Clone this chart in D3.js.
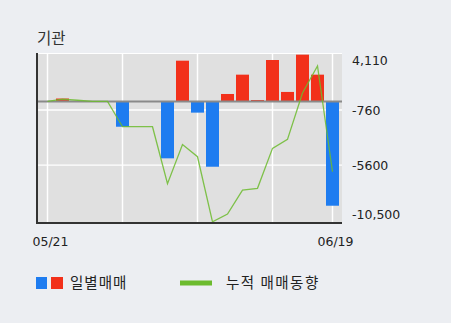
<!DOCTYPE html>
<html><head><meta charset="utf-8">
<script src="https://cdn.jsdelivr.net/npm/d3@7/dist/d3.min.js"></script>
<style>
html,body{margin:0;padding:0;background:#eceef2;}
svg{display:block;font-family:"Noto Sans CJK KR","Noto Sans",sans-serif;}
.num{font-family:"DejaVu Sans",sans-serif;}
</style></head>
<body><svg id="chart" width="451" height="323"></svg>
<script>
const title = "기관";
const dates = ["05/21","05/23","05/24","05/25","05/28","05/29","05/30","05/31","06/01","06/04",
               "06/05","06/07","06/08","06/11","06/12","06/13","06/14","06/15","06/18","06/19"];
const daily = [0, 250, 0, 0, 0, -2230, 0, 0, -5010, 3580,
               -990, -5750, 650, 2350, 120, 3640, 830, 4110, 2350, -9180];
const cumulative = [0, 200, 100, 0, 0, -2230, -2230, -2230, -7240, -3800,
                    -4870, -10600, -9910, -7800, -7650, -4130, -3340, 740, 3110, -6190];
const yTicks = [4110, -760, -5600, -10500];
const xLabels = ["05/21", "06/19"];
const gridDates = ["05/21", "05/29", "06/05", "06/13", "06/19"];
const legendBar = "일별매매";
const legendLine = "누적 매매동향";

const svg = d3.select("#chart");
const L = 36, R = 342, T = 53, B = 223;
const x = d3.scalePoint().domain(dates).range([47.5, 332.5]);
const y = d3.scaleLinear().domain([-10700, 4256]).range([B, T]);
const blue = "#1e7cf0", red = "#f2301a", green = "#6cbb2e";

svg.append("text").attr("x", 37).attr("y", 44).attr("font-size", 15.5).attr("fill", "#333").text(title);

svg.append("rect").attr("x", L).attr("y", T).attr("width", R - L).attr("height", B - T).attr("fill", "#e0e0e0");
svg.append("line").attr("x1", L).attr("x2", R).attr("y1", T + 0.5).attr("y2", T + 0.5).attr("stroke", "#fff").attr("stroke-width", 1.2);
svg.selectAll(".hg").data(yTicks.slice(1, 3)).join("line")
  .attr("x1", L).attr("x2", R).attr("y1", d => y(d)).attr("y2", d => y(d))
  .attr("stroke", "#fff").attr("stroke-width", 1.3);
svg.selectAll(".vg").data(gridDates).join("line")
  .attr("x1", d => x(d)).attr("x2", d => x(d)).attr("y1", T).attr("y2", B)
  .attr("stroke", "#fff").attr("stroke-width", 1.5);

const bw = 13;
svg.selectAll(".bar").data(dates.map((d, i) => ({d, v: daily[i]}))).join("rect")
  .attr("x", p => x(p.d) - bw / 2).attr("width", bw)
  .attr("y", p => y(Math.max(0, p.v))).attr("height", p => Math.abs(y(p.v) - y(0)))
  .attr("fill", p => p.v >= 0 ? red : blue);

svg.append("line").attr("x1", L).attr("x2", R).attr("y1", y(0)).attr("y2", y(0))
  .attr("stroke", "#8a8a8a").attr("stroke-width", 2);

const line = d3.line().x((v, i) => x(dates[i])).y(v => y(v));
svg.append("path").attr("d", line(cumulative)).attr("fill", "none")
  .attr("stroke", green).attr("stroke-width", 1.3).attr("stroke-opacity", 0.85);

svg.append("line").attr("x1", L + 1).attr("x2", L + 1).attr("y1", T).attr("y2", B + 1)
  .attr("stroke", "#333").attr("stroke-width", 2);
svg.append("line").attr("x1", L).attr("x2", R).attr("y1", B).attr("y2", B)
  .attr("stroke", "#333").attr("stroke-width", 2);

const fmt = v => (Math.abs(v) >= 10000 || v === yTicks[0]) ? d3.format(",")(v).replace("−", "-") : String(v);
svg.selectAll(".yl").data(yTicks).join("text").attr("class", "num")
  .attr("x", 352).attr("y", d => Math.min(214, Math.max(60, y(d))))
  .attr("dy", "0.36em").attr("font-size", 12.5).attr("fill", "#222").text(fmt);

svg.selectAll(".xl").data(xLabels).join("text").attr("class", "num")
  .attr("x", d => x(d) + 3).attr("y", 246).attr("text-anchor", "middle")
  .attr("font-size", 12.5).attr("fill", "#222").text(d => d);

svg.append("rect").attr("x", 36).attr("y", 277).attr("width", 11).attr("height", 12).attr("fill", blue);
svg.append("rect").attr("x", 51).attr("y", 277).attr("width", 12).attr("height", 12).attr("fill", red);
svg.append("text").attr("x", 70).attr("y", 288).attr("font-size", 14.5).attr("letter-spacing", 1).attr("fill", "#222").text(legendBar);
svg.append("line").attr("x1", 180).attr("x2", 212).attr("y1", 283).attr("y2", 283).attr("stroke", green).attr("stroke-width", 5);
svg.append("text").attr("x", 226).attr("y", 288).attr("font-size", 14.5).attr("letter-spacing", 1.5).attr("fill", "#222").text(legendLine);
</script></body></html>
